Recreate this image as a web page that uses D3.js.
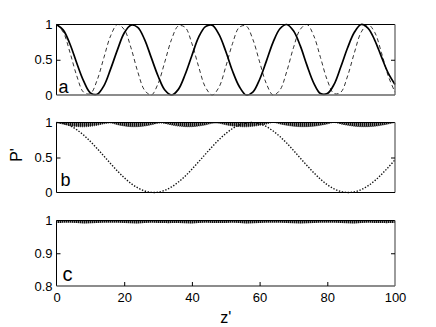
<!DOCTYPE html>
<html><head><meta charset="utf-8">
<script src="https://cdn.jsdelivr.net/npm/d3@7"></script>
<style>
body{margin:0;background:#fff}
svg{display:block}
text{font-family:"Liberation Sans",Arial,Helvetica,sans-serif;fill:#000}
</style>
</head><body>
<svg id="chart" width="436" height="327"></svg>
<script>
// sample grid (z') for panels a and b
const zGrid = d3.range(0, 101, 2);
// panel a: solid curve
const solidA = [1,0.92,0.72,0.45,0.20,0.03,0.01,0.13,0.37,0.64,0.88,0.99,0.96,0.79,0.53,0.27,0.07,0.00,0.08,0.29,0.56,0.82,0.97,0.99,0.86,0.62,0.34,0.12,0.00,0.04,0.22,0.48,0.75,0.94,1.00,0.91,0.70,0.42,0.17,0.02,0.02,0.15,0.40,0.67,0.89,1.00,0.95,0.78,0.54,0.31,0.15];
// panel a: dashed curve
const dashedA = [1,0.89,0.60,0.27,0.04,0.02,0.21,0.53,0.84,1.00,0.93,0.67,0.33,0.07,0.00,0.16,0.47,0.79,0.98,0.96,0.73,0.40,0.11,0.00,0.11,0.40,0.73,0.96,0.98,0.79,0.47,0.16,0.00,0.07,0.33,0.67,0.93,1.00,0.84,0.53,0.21,0.02,0.04,0.27,0.60,0.89,1.00,0.89,0.60,0.27,0.04];
// panel b: slow dotted curve
const dottedB = [1,0.988,0.953,0.896,0.821,0.730,0.628,0.520,0.412,0.307,0.211,0.130,0.066,0.022,0.002,0.005,0.031,0.080,0.149,0.233,0.333,0.439,0.548,0.655,0.754,0.842,0.913,0.964,0.993,0.999,0.981,0.941,0.879,0.799,0.706,0.602,0.493,0.385,0.282,0.190,0.112,0.052,0.015,0.000,0.009,0.041,0.095,0.168,0.258,0.359,0.466];
// panel b: lower envelope of the fast-oscillating curve (upper envelope = 1)
const bandB = [1.000,0.976,0.955,0.943,0.939,0.946,0.961,0.982,0.993,0.969,0.951,0.941,0.941,0.950,0.968,0.991,0.987,0.965,0.949,0.941,0.941,0.950,0.966,0.988,0.989,0.968,0.951,0.942,0.939,0.946,0.960,0.978,1.000,0.980,0.961,0.947,0.941,0.941,0.947,0.961,0.980,1.000,0.980,0.961,0.947,0.941,0.941,0.947,0.961,0.980,1.000];
// panel c: lower envelope of the fast oscillation (upper envelope = 1)
const zGridC = d3.range(0, 101, 4);
const bandC = [0.992,0.993,0.991,0.992,0.993,0.992,0.991,0.993,0.992,0.992,0.991,0.993,0.992,0.993,0.991,0.992,0.993,0.992,0.991,0.992,0.993,0.992,0.991,0.993,0.992,0.992];
const xTicks = [0,20,40,60,80,100];
const yTicksAB = [0,0.5,1];
const yTicksC = [0.8,0.9,1];
const panelLetters = ["a","b","c"];

const svg = d3.select("#chart");
const defs = svg.append("defs");
const pat = defs.append("pattern").attr("id","hatch").attr("patternUnits","userSpaceOnUse")
  .attr("width",2).attr("height",4);
pat.append("rect").attr("width",2).attr("height",4).attr("fill","#808080");
pat.append("rect").attr("width",1).attr("height",4).attr("fill","#111");

const L = 56.5, R = 395;
const x = d3.scaleLinear().domain([0,100]).range([L,R]);

const panels = [
  {top:24.5, bottom:95, domain:[0,1], ticks:yTicksAB, inner:[0.5], bottomGray:true},
  {top:122.5, bottom:192.5, domain:[0,1], ticks:yTicksAB, inner:[0.5], bottomGray:false},
  {top:220.5, bottom:286, domain:[0.8,1], ticks:yTicksC, inner:[0.9], bottomGray:true}
];
panels.forEach(p => { p.y = d3.scaleLinear().domain(p.domain).range([p.bottom,p.top]); });

// ---- panel a
{
  const p = panels[0];
  const line = d3.line().x((d,i)=>x(zGrid[i])).y(d=>p.y(d)).curve(d3.curveCatmullRom);
  svg.append("path").datum(dashedA).attr("d",line).attr("fill","none")
    .attr("stroke","#000").attr("stroke-width",0.8).attr("stroke-dasharray","4,3");
  svg.append("path").datum(solidA).attr("d",line).attr("fill","none")
    .attr("stroke","#000").attr("stroke-width",1.7);
}
// ---- panel b
{
  const p = panels[1];
  const area = d3.area().x((d,i)=>x(zGrid[i])).y0(d=>p.y(d)).y1(()=>p.y(1)).curve(d3.curveCatmullRom);
  svg.append("path").datum(bandB).attr("d",area).attr("fill","url(#hatch)");
  const env = d3.line().x((d,i)=>x(zGrid[i])).y(d=>p.y(d)).curve(d3.curveCatmullRom);
  svg.append("path").datum(bandB).attr("d",env).attr("fill","none")
    .attr("stroke","#222").attr("stroke-width",0.9).attr("stroke-dasharray","1,1");
  const line = d3.line().x((d,i)=>x(zGrid[i])).y(d=>p.y(d)).curve(d3.curveCatmullRom);
  svg.append("path").datum(dottedB).attr("d",line).attr("fill","none")
    .attr("stroke","#111").attr("stroke-width",1.4).attr("stroke-dasharray","1.4,1.6");
}
// ---- panel c
{
  const p = panels[2];
  const area = d3.area().x((d,i)=>x(zGridC[i])).y0(d=>p.y(d)).y1(()=>p.y(1)).curve(d3.curveCatmullRom);
  svg.append("path").datum(bandC).attr("d",area).attr("fill","url(#hatch)");
}

// ---- frames & axes
panels.forEach((p,idx) => {
  const g = svg.append("g");
  g.append("line").attr("x1",L).attr("x2",L).attr("y1",p.top).attr("y2",p.bottom).attr("stroke","#000");
  g.append("line").attr("x1",L).attr("x2",R).attr("y1",p.top).attr("y2",p.top).attr("stroke","#000");
  g.append("line").attr("x1",R).attr("x2",R).attr("y1",p.top).attr("y2",p.bottom)
    .attr("stroke","#666").attr("stroke-width",1.3);
  g.append("line").attr("x1",L).attr("x2",R).attr("y1",p.bottom).attr("y2",p.bottom)
    .attr("stroke", p.bottomGray ? "#666" : "#000").attr("stroke-width", p.bottomGray ? 1.3 : 1);

  const ax = d3.axisLeft(p.y).tickValues(p.ticks).tickSize(-4).tickPadding(4)
    .tickFormat(d => d3.format("")(d));
  const ga = g.append("g").attr("transform",`translate(${L},0)`).call(ax);
  ga.select(".domain").remove();
  ga.selectAll(".tick line").attr("stroke", d => p.inner.includes(d) ? "#000" : "none");
  ga.selectAll("text").attr("font-size",13).style("font-family",'"Liberation Sans",Arial,sans-serif');

  const axr = d3.axisRight(p.y).tickValues(p.inner).tickSize(-4).tickFormat("");
  const gr = g.append("g").attr("transform",`translate(${R},0)`).call(axr);
  gr.select(".domain").remove();

  g.append("text").attr("x", idx===2 ? 62.5 : (idx===0 ? 58.5 : 60.5))
    .attr("y", idx===0 ? 93 : (idx===1 ? 186 : 281))
    .attr("font-size", idx===2 ? 20 : 18).text(panelLetters[idx]);
});

// x axis on bottom panel
{
  const p = panels[2];
  const axb = d3.axisBottom(x).tickValues(xTicks).tickSize(-4).tickPadding(7);
  const gb = svg.append("g").attr("transform",`translate(0,${p.bottom})`).call(axb);
  gb.select(".domain").remove();
  gb.selectAll(".tick line").attr("stroke", d => (d===0||d===100) ? "none" : "#000");
  gb.selectAll("text").attr("font-size",13).style("font-family",'"Liberation Sans",Arial,sans-serif');
}

// axis titles
svg.append("text").attr("x",(L+R)/2).attr("y",323).attr("text-anchor","middle")
  .attr("font-size",16).text("z'");
svg.append("text").attr("transform","translate(22,155) rotate(-90)").attr("text-anchor","middle")
  .attr("font-size",16).text("P'");
</script>
</body></html>
